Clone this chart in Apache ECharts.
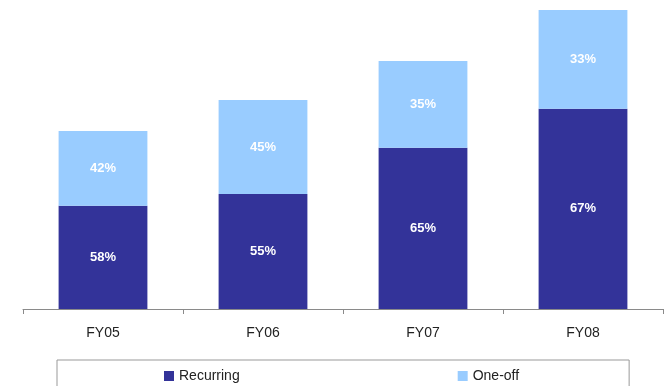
<!DOCTYPE html>
<html>
<head>
<meta charset="utf-8">
<script src="https://cdn.jsdelivr.net/npm/echarts@6/dist/echarts.min.js"></script>
<style>
  html, body { margin: 0; padding: 0; background: #fff; }
  #chart { width: 664px; height: 386px; }
</style>
</head>
<body>
<div id="chart"></div>
<script>
// Fiscal years on the category axis
const years = ['FY05', 'FY06', 'FY07', 'FY08'];
// Total revenue per year (relative units)
const totals = [17.8, 20.9, 24.8, 29.9];
// Share of each year's revenue, in percent
const recurringPct = [58, 55, 65, 67];
const oneOffPct = [42, 45, 35, 33];

const recurring = totals.map((t, i) => t * recurringPct[i] / 100);
const oneOff = totals.map((t, i) => t * oneOffPct[i] / 100);

const FONT = 'Liberation Sans, Arial, sans-serif';

const chart = echarts.init(document.getElementById('chart'), null, { renderer: 'canvas' });

const segLabel = pcts => ({
  show: true,
  position: 'inside',
  color: '#ffffff',
  fontFamily: FONT,
  fontSize: 13,
  fontWeight: 'bold',
  formatter: p => pcts[p.dataIndex] + '%'
});

chart.setOption({
  animation: false,
  backgroundColor: '#ffffff',
  grid: { left: 23, right: 1, top: 0, bottom: 77, containLabel: false },
  legend: {
    left: 57,
    top: 360,
    orient: 'horizontal',
    itemWidth: 10,
    itemHeight: 10,
    itemGap: 218,
    padding: [9, 110, 20, 107],
    borderColor: '#999999',
    borderWidth: 1,
    textStyle: { fontFamily: FONT, fontSize: 14, color: '#222222' },
    data: [
      { name: 'Recurring', icon: 'rect' },
      { name: 'One-off', icon: 'rect' }
    ]
  },
  xAxis: {
    type: 'category',
    data: years,
    axisLine: { show: true, lineStyle: { color: '#8a8a8a', width: 1 } },
    axisTick: { show: true, length: 5, lineStyle: { color: '#8a8a8a' } },
    axisLabel: { fontFamily: FONT, fontSize: 14, color: '#222222', margin: 17 }
  },
  yAxis: {
    type: 'value',
    min: 0,
    max: 30.9,
    show: false,
    splitLine: { show: false }
  },
  series: [
    {
      name: 'Recurring',
      type: 'bar',
      stack: 'rev',
      barWidth: '55.5%',
      itemStyle: { color: '#333399' },
      label: segLabel(recurringPct),
      data: recurring
    },
    {
      name: 'One-off',
      type: 'bar',
      stack: 'rev',
      barWidth: '55.5%',
      itemStyle: { color: '#99ccff' },
      label: segLabel(oneOffPct),
      data: oneOff
    }
  ]
});
</script>
</body>
</html>
